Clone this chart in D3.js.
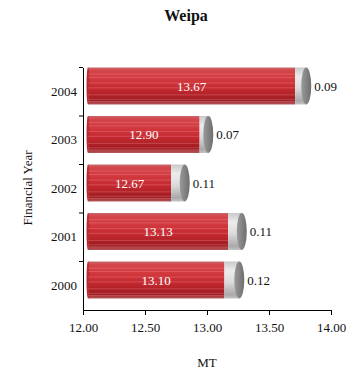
<!DOCTYPE html>
<html>
<head>
<meta charset="utf-8">
<script src="https://cdn.jsdelivr.net/npm/d3@7"></script>
<style>
  body { margin: 0; background: #fff; }
  text { font-family: "Liberation Serif", serif; }
</style>
</head>
<body>
<div id="chart"></div>
<script>
/* DATA */
const years = ["2000", "2001", "2002", "2003", "2004"];
const mainValues = [13.10, 13.13, 12.67, 12.90, 13.67];
const extraValues = [0.12, 0.11, 0.11, 0.07, 0.09];
const xTicks = [12.00, 12.50, 13.00, 13.50, 14.00];

const width = 359, height = 373;
const margin = {top: 67.5, left: 83, right: 28, bottom: 63};

const svg = d3.select("#chart").append("svg")
    .attr("width", width)
    .attr("height", height);

const defs = svg.append("defs");

// red cylinder shading
const redGrad = defs.append("linearGradient")
    .attr("id", "redGrad").attr("x1", 0).attr("y1", 0).attr("x2", 0).attr("y2", 1);
[["0%", "#c9676b"], ["8%", "#d3464b"], ["30%", "#d23a40"], ["60%", "#c2282e"], ["88%", "#9c1b20"], ["100%", "#b35a5e"]]
    .forEach(s => redGrad.append("stop").attr("offset", s[0]).attr("stop-color", s[1]));

const grayGrad = defs.append("linearGradient")
    .attr("id", "grayGrad").attr("x1", 0).attr("y1", 0).attr("x2", 0).attr("y2", 1);
[["0%", "#c9c9c9"], ["25%", "#ececec"], ["55%", "#dcdcdc"], ["90%", "#a9a9a9"], ["100%", "#c4c4c4"]]
    .forEach(s => grayGrad.append("stop").attr("offset", s[0]).attr("stop-color", s[1]));

const capGrad = defs.append("linearGradient")
    .attr("id", "capGrad").attr("x1", 0).attr("y1", 0).attr("x2", 1).attr("y2", 0);
[["0%", "#9a9a9a"], ["100%", "#6e6e6e"]]
    .forEach(s => capGrad.append("stop").attr("offset", s[0]).attr("stop-color", s[1]));

/* SCALES */
const xScale = d3.scaleLinear()
    .domain([12, 14])
    .range([margin.left, width - margin.right]);

const yScale = d3.scaleBand()
    .domain(years.slice().reverse())
    .range([margin.top, height - margin.bottom])
    .paddingInner(0);

const data = years.map((y, i) => ({year: y, v: mainValues[i], g: extraValues[i]}));

/* BARS (3D cylinders) */
const dx = 5;          // depth shift to the right
const barH = 37;
const rx = 5;

const bars = svg.append("g").selectAll("g")
    .data(data)
    .enter().append("g")
    .attr("transform", d => `translate(0,${yScale(d.year)})`);

// red body
bars.append("rect")
    .attr("x", xScale(12) + dx)
    .attr("y", 0)
    .attr("width", d => xScale(d.v) - xScale(12))
    .attr("height", barH)
    .attr("fill", "url(#redGrad)");

// left rounded end
bars.append("ellipse")
    .attr("cx", xScale(12) + dx)
    .attr("cy", barH / 2)
    .attr("rx", 1.5)
    .attr("ry", barH / 2)
    .attr("fill", "#b82a30");

// stripes
const stripes = [0.18, 0.27, 0.42, 0.55, 0.74, 0.86, 0.92];
bars.each(function(d) {
    d3.select(this).selectAll("line.stripe")
        .data(stripes)
        .enter().append("line")
        .attr("x1", xScale(12) + dx)
        .attr("x2", xScale(d.v) + dx)
        .attr("y1", s => s * barH)
        .attr("y2", s => s * barH)
        .attr("stroke", "#f08a8e")
        .attr("stroke-opacity", 0.45)
        .attr("stroke-width", 0.8);
});

// gray segment
bars.append("rect")
    .attr("x", d => xScale(d.v) + dx)
    .attr("y", 0)
    .attr("width", d => xScale(d.v + d.g) - xScale(d.v))
    .attr("height", barH)
    .attr("fill", "url(#grayGrad)");

// end cap
bars.append("ellipse")
    .attr("cx", d => xScale(d.v + d.g) + dx)
    .attr("cy", barH / 2)
    .attr("rx", rx)
    .attr("ry", barH / 2)
    .attr("fill", "url(#capGrad)");

// value labels
bars.append("text")
    .attr("x", d => (xScale(12) + xScale(d.v)) / 2 + dx)
    .attr("y", barH / 2 + 4.5)
    .attr("text-anchor", "middle")
    .attr("font-size", 13)
    .attr("fill", "#ffffff")
    .text(d => d.v.toFixed(2));

bars.append("text")
    .attr("x", d => xScale(d.v + d.g) + dx + rx + 3)
    .attr("y", barH / 2 + 4.5)
    .attr("font-size", 13)
    .attr("fill", "#111")
    .text(d => d.g.toFixed(2));

/* AXES */
const xAxis = svg.append("g")
    .attr("transform", `translate(0,${height - margin.bottom})`)
    .call(d3.axisBottom(xScale).tickValues(xTicks).tickFormat(d3.format(".2f")).tickSizeOuter(0).tickSize(5));
xAxis.selectAll("text").attr("font-size", 13).attr("fill", "#111").attr("dy", "1.1em")
    .style("font-family", "Liberation Serif, serif");

const yAxis = svg.append("g")
    .attr("transform", `translate(${margin.left},0)`)
    .call(d3.axisLeft(yScale).tickSize(0).tickPadding(6));
yAxis.selectAll("text").attr("font-size", 13).attr("fill", "#111")
    .style("font-family", "Liberation Serif, serif");

// category boundary ticks
svg.append("g").selectAll("line")
    .data(years)
    .enter().append("line")
    .attr("x1", margin.left - 4)
    .attr("x2", margin.left)
    .attr("y1", d => yScale(d))
    .attr("y2", d => yScale(d))
    .attr("stroke", "#000");

svg.selectAll(".domain").attr("stroke", "#000");
svg.selectAll(".tick line").attr("stroke", "#000");

/* LABELS */
svg.append("text")
    .attr("x", 186)
    .attr("y", 21)
    .attr("text-anchor", "middle")
    .attr("font-size", 16)
    .attr("font-weight", "bold")
    .attr("fill", "#111")
    .text("Weipa");

svg.append("text")
    .attr("x", 207)
    .attr("y", 367)
    .attr("text-anchor", "middle")
    .attr("font-size", 13)
    .attr("fill", "#111")
    .text("MT");

svg.append("text")
    .attr("transform", "rotate(-90)")
    .attr("x", -188)
    .attr("y", 32)
    .attr("text-anchor", "middle")
    .attr("font-size", 13)
    .attr("fill", "#111")
    .text("Financial Year");
</script>
</body>
</html>
